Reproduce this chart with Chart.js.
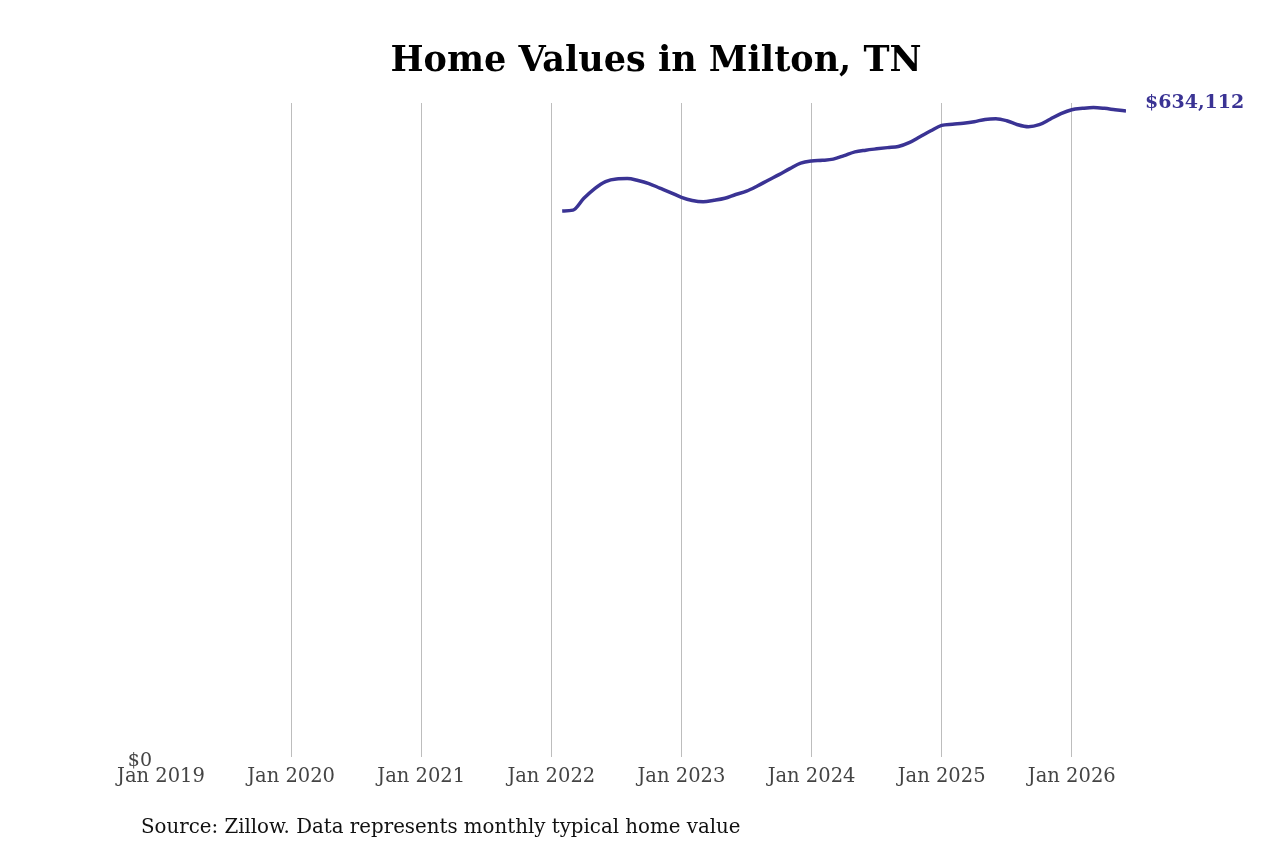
<!DOCTYPE html>
<html>
<head>
<meta charset="utf-8">
<script src="https://cdn.jsdelivr.net/npm/chart.js@4.4.1/dist/chart.umd.min.js"></script>
<style>
  html, body { margin: 0; padding: 0; background: #ffffff; }
  #wrap { width: 1280px; height: 853px; position: relative; }
</style>
</head>
<body>
<div id="wrap"><canvas id="c" width="1280" height="853"></canvas></div>
<script>
const chartTitle = "Home Values in Milton, TN";
const sourceNote = "Source: Zillow. Data represents monthly typical home value";
const startYear = 2019;
const tickYears = [2019, 2020, 2021, 2022, 2023, 2024, 2025, 2026];
const months = [
  "2022-02","2022-03","2022-04","2022-05","2022-06","2022-07","2022-08","2022-09","2022-10","2022-11","2022-12",
  "2023-01","2023-02","2023-03","2023-04","2023-05","2023-06","2023-07","2023-08","2023-09","2023-10","2023-11","2023-12",
  "2024-01","2024-02","2024-03","2024-04","2024-05","2024-06","2024-07","2024-08","2024-09","2024-10","2024-11","2024-12",
  "2025-01","2025-02","2025-03","2025-04","2025-05","2025-06","2025-07","2025-08","2025-09","2025-10","2025-11","2025-12",
  "2026-01","2026-02","2026-03","2026-04","2026-05","2026-06"
];
const homeValues = [
  536000, 536800, 548400, 558000, 564900, 567500, 567800, 565900, 562900, 558500, 554100,
  549400, 546300, 545100, 546500, 548500, 552200, 555400, 560500, 566200, 571700, 577600, 583000,
  585100, 585700, 586900, 590300, 594000, 595700, 597000, 598200, 599300, 603100, 608900, 614800,
  620000, 621200, 622100, 623600, 625900, 626600, 624600, 620700, 618700, 620700, 626100, 631500,
  635400, 636800, 637600, 636800, 635400, 634112
];
const yMin = 0;
const yMax = 642000;

const lineColor = "#3a3394";
const serif = "'DejaVu Serif', 'Liberation Serif', serif";

function monthIndex(s) {
  const [y, m] = s.split("-").map(Number);
  return (y - startYear) * 12 + (m - 1);
}
const points = months.map((m, i) => ({ x: monthIndex(m), y: homeValues[i] }));
const xMax = monthIndex(months[months.length - 1]);

const extras = {
  id: "extras",
  afterDraw(chart) {
    const ctx = chart.ctx;
    ctx.save();
    ctx.textBaseline = "middle";
    // title
    ctx.font = "bold 35px " + serif;
    ctx.fillStyle = "#000000";
    ctx.textAlign = "center";
    ctx.fillText(chartTitle, 656, 62);
    // source note
    ctx.font = "19.8px " + serif;
    ctx.fillStyle = "#111111";
    ctx.textAlign = "left";
    ctx.fillText(sourceNote, 141, 828);
    // end label
    const meta = chart.getDatasetMeta(0);
    const last = meta.data[meta.data.length - 1];
    const lastVal = homeValues[homeValues.length - 1];
    ctx.font = "bold 19px " + serif;
    ctx.fillStyle = lineColor;
    ctx.fillText("$" + lastVal.toLocaleString("en-US"), last.x + 19, last.y - 8);
    ctx.restore();
  }
};

new Chart(document.getElementById("c"), {
  type: "line",
  data: {
    datasets: [{
      data: points,
      borderColor: lineColor,
      borderWidth: 3.5,
      pointRadius: 0,
      cubicInterpolationMode: "monotone",
      fill: false
    }]
  },
  options: {
    responsive: false,
    animation: false,
    devicePixelRatio: 1,
    layout: { padding: { left: 0, right: 154, top: 103, bottom: 0 } },
    plugins: {
      legend: { display: false },
      tooltip: { enabled: false },
      title: { display: false }
    },
    scales: {
      x: {
        type: "linear",
        min: 0,
        max: xMax,
        afterBuildTicks(scale) {
          scale.ticks = tickYears.map(y => ({ value: (y - startYear) * 12 }));
        },
        afterFit(scale) { scale.height = 96; },
        ticks: {
          autoSkip: false,
          maxRotation: 0,
          padding: 8,
          color: "#444444",
          font: { family: serif, size: 19.5 },
          callback: (v) => "Jan " + (startYear + Math.round(v / 12))
        },
        grid: {
          drawTicks: false,
          color: (c) => (c.tick && c.tick.value === 0) ? "rgba(0,0,0,0)" : "#bdbdbd",
          lineWidth: 1
        },
        border: { display: false }
      },
      y: {
        min: yMin,
        max: yMax,
        afterBuildTicks(scale) { scale.ticks = [{ value: 0 }]; },
        afterFit(scale) { scale.width = 161; },
        ticks: {
          padding: 9,
          labelOffset: 4,
          color: "#444444",
          font: { family: serif, size: 19 },
          callback: (v) => "$" + v.toLocaleString("en-US")
        },
        grid: { display: false, drawTicks: false },
        border: { display: false }
      }
    }
  },
  plugins: [extras]
});
</script>
</body>
</html>
